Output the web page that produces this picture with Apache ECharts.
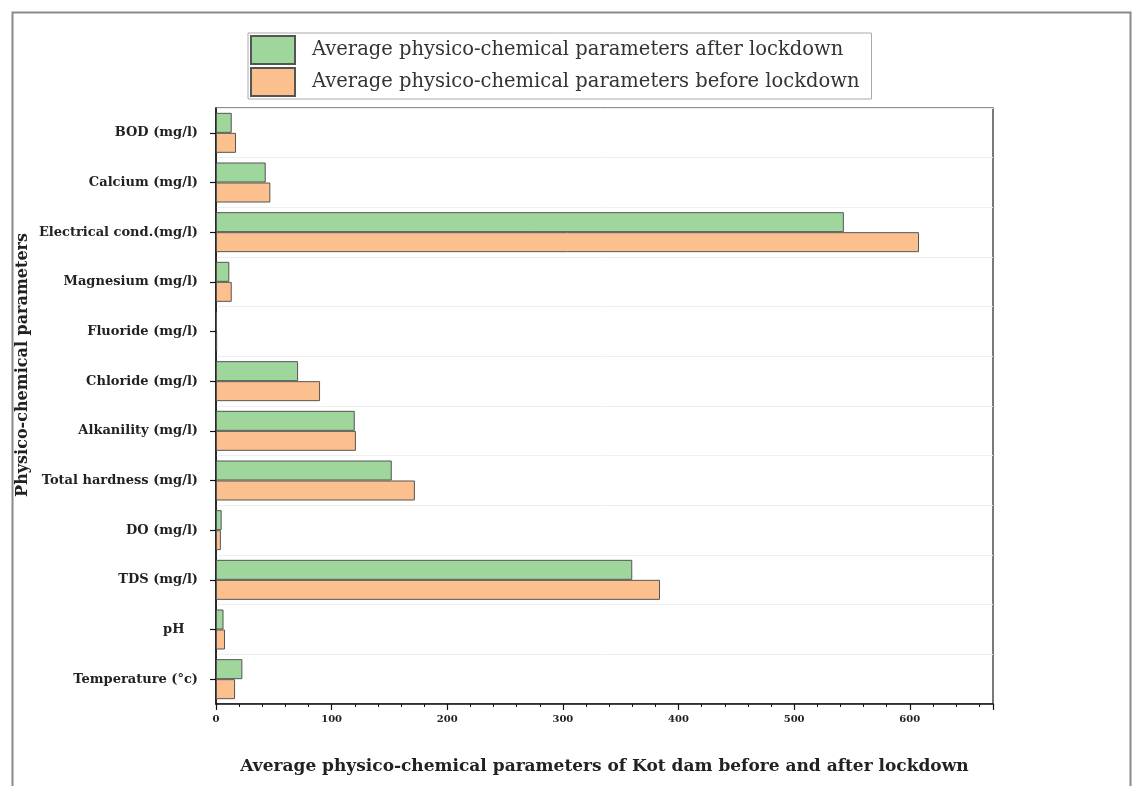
<!DOCTYPE html>
<html>
<head>
<meta charset="utf-8">
<script src="https://cdn.jsdelivr.net/npm/echarts@6/dist/echarts.min.js"></script>
<style>
html,body{margin:0;padding:0;background:#fff;}
#chart{width:1139px;height:786px;}
</style>
</head>
<body>
<div id="chart"></div>
<script>
const categories = ['BOD (mg/l)','Calcium (mg/l)','Electrical cond.(mg/l)','Magnesium (mg/l)','Fluoride (mg/l)','Chloride (mg/l)','Alkanility (mg/l)','Total hardness (mg/l)','DO (mg/l)','TDS (mg/l)','pH   ','Temperature (\u00b0c)'];
const afterLockdown  = [13.6, 43, 543, 11.5, 0.8, 71, 120, 152, 4.9, 360, 6.5, 22.8];
const beforeLockdown = [17.3, 47, 608, 13.6, 1.0, 90, 121, 172, 4.2, 384, 7.8, 16.5];
const seriesNames = ['Average physico-chemical parameters after lockdown','Average physico-chemical parameters before lockdown'];
const xTitle = 'Average physico-chemical parameters of Kot dam before and after lockdown';
const yTitle = 'Physico-chemical parameters';

const serif = '"DejaVu Serif","Liberation Serif",serif';
const chart = echarts.init(document.getElementById('chart'));
chart.setOption({
  backgroundColor: '#fff',
  animation: false,
  grid: {left: 216, right: 146, top: 108, bottom: 82, show: true, borderColor: '#222', borderWidth: 1.2, backgroundColor: 'transparent'},
  legend: {
    left: 248, top: 33, orient: 'vertical', icon: 'rect',
    itemWidth: 44, itemHeight: 28, itemGap: 2,
    padding: [2, 12, 2, 2],
    borderColor: '#aaa', borderWidth: 1,
    textStyle: {fontFamily: serif, fontSize: 19.5, color: '#333', padding: [0,0,0,12]},
    data: seriesNames
  },
  xAxis: {
    type: 'value', min: 0, max: 672, interval: 100,
    name: xTitle, nameLocation: 'middle', nameGap: 54,
    nameTextStyle: {fontFamily: serif, fontSize: 17, fontWeight: 'bold', color: '#222'},
    axisLine: {show: true, lineStyle: {color: '#111', width: 1.5}},
    axisTick: {show: true, inside: false, length: 6, lineStyle: {color: '#111', width: 1.2}},
    minorTick: {show: true, splitNumber: 5, length: 3, lineStyle: {color: '#111', width: 1}},
    axisLabel: {fontFamily: serif, fontSize: 10, fontWeight: 'bold', color: '#222', margin: 10, showMaxLabel: false},
    splitLine: {show: false}
  },
  yAxis: {
    type: 'category', data: categories, inverse: true,
    axisLine: {show: true, lineStyle: {color: '#111', width: 1.5}},
    axisTick: {show: true, alignWithLabel: true, length: 6, lineStyle: {color: '#111', width: 1.2}},
    axisLabel: {fontFamily: serif, fontSize: 13, fontWeight: 'bold', color: '#222', margin: 18},
    splitLine: {show: true, lineStyle: {color: '#eeeeee', width: 1}}
  },
  series: [
    {name: seriesNames[0], type: 'bar', data: afterLockdown, barWidth: 20, barGap: '0%',
     itemStyle: {color: '#9fd69c', borderColor: '#555', borderWidth: 1}},
    {name: seriesNames[1], type: 'bar', data: beforeLockdown, barWidth: 20, barGap: '0%',
     itemStyle: {color: '#fcc08f', borderColor: '#555', borderWidth: 1}}
  ],
  graphic: [
    {type: 'rect', left: 10, top: 10, shape: {width: 1118, height: 800}, style: {fill: 'none', stroke: '#8a8a8a', lineWidth: 2}, silent: true},
    {type: 'text', left: 15, top: 233, rotation: Math.PI/2, style: {text: yTitle, font: 'bold 16px ' + serif, fill: '#222'}}
  ]
});
</script>
</body>
</html>
